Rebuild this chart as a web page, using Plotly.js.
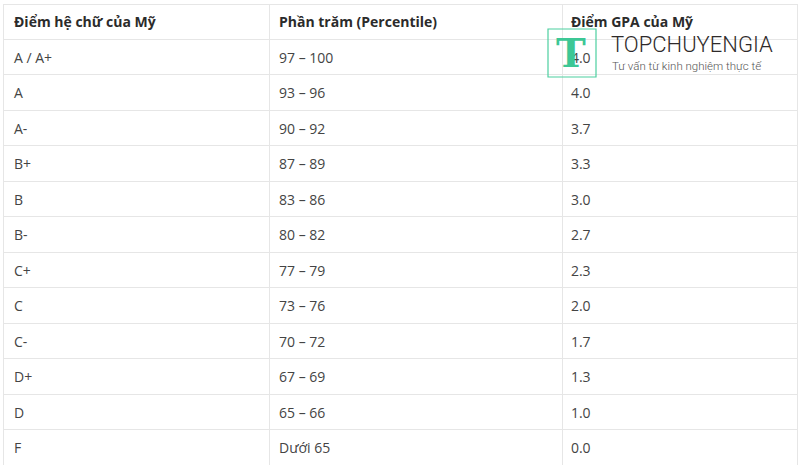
<!DOCTYPE html>
<html>
<head>
<meta charset="utf-8">
<script src="https://cdn.plot.ly/plotly-3.0.1.min.js"></script>
<style>
  html, body { margin: 0; padding: 0; background: #fff; }
  #chart { width: 800px; height: 469px; }
</style>
</head>
<body>
<div id="chart"></div>
<script>
// GPA conversion table
const headers = ['Điểm hệ chữ của Mỹ', 'Phần trăm (Percentile)', 'Điểm GPA của Mỹ'];
const letterGrades = ['A / A+', 'A', 'A-', 'B+', 'B', 'B-', 'C+', 'C', 'C-', 'D+', 'D', 'F'];
const percentiles = ['97 – 100', '93 – 96', '90 – 92', '87 – 89', '83 – 86', '80 – 82',
                     '77 – 79', '73 – 76', '70 – 72', '67 – 69', '65 – 66', 'Dưới 65'];
const gpaValues = ['4.0', '4.0', '3.7', '3.3', '3.0', '2.7', '2.3', '2.0', '1.7', '1.3', '1.0', '0.0'];

const W = 800, H = 469;
const m = {l: 3, r: 3, t: 4, b: 0};
const pw = W - m.l - m.r, ph = H - m.t - m.b;
const tableH = 461;
// pixel -> paper helpers
const px = x => (x - m.l) / pw;
const py = y => 1 - (y - m.t) / ph;

const lineColor = '#e6e6e6';
const clear = 'rgba(0,0,0,0)';
const colW = [266, 293, 235];
const rowH = 35.5, headH = 35;
const blanks = letterGrades.map(() => '');

// grid lines only
const grid = {
    type: 'table',
    domain: {x: [0, 1], y: [py(4 + tableH), 1]},
    columnwidth: colW,
    header: {
        values: ['', '', ''],
        height: headH,
        fill: {color: '#fff'},
        line: {color: lineColor, width: 1}
    },
    cells: {
        values: [blanks, blanks, blanks],
        height: rowH,
        fill: {color: '#fff'},
        line: {color: lineColor, width: 1}
    }
};

// header text, nudged right
const head = {
    type: 'table',
    domain: {x: [px(6), 1], y: [py(4 + tableH), 1]},
    columnwidth: colW,
    header: {
        values: headers.map(h => '<b>' + h + '</b>'),
        align: 'left',
        height: headH,
        fill: {color: clear},
        line: {color: clear, width: 0},
        font: {family: 'Open Sans', size: 14, color: '#2b2b2b'}
    },
    cells: {
        values: [blanks, blanks, blanks],
        height: rowH,
        fill: {color: clear},
        line: {color: clear, width: 0}
    }
};

// body text, nudged down/right so it sits centred in the rows
const body = {
    type: 'table',
    domain: {x: [px(6), 1], y: [py(9 + tableH), py(9)]},
    columnwidth: colW,
    header: {
        values: ['', '', ''],
        height: headH,
        fill: {color: clear},
        line: {color: clear, width: 0}
    },
    cells: {
        values: [letterGrades, percentiles, gpaValues],
        align: 'left',
        height: rowH,
        fill: {color: clear},
        line: {color: clear, width: 0},
        font: {family: 'Open Sans', size: 14, color: '#444'}
    }
};

const layout = {
    width: W,
    height: H,
    margin: m,
    paper_bgcolor: '#fff',
    shapes: [{
        type: 'rect', xref: 'paper', yref: 'paper',
        x0: px(548), x1: px(596), y0: py(29), y1: py(77),
        line: {color: '#4ccfa0', width: 1.2}
    }],
    annotations: [
        {
            xref: 'paper', yref: 'paper', x: px(571), y: py(53),
            xanchor: 'center', yanchor: 'middle',
            text: '<b>T</b>', showarrow: false,
            font: {family: 'DejaVu Serif', size: 40, color: '#3cc795'}
        },
        {
            xref: 'paper', yref: 'paper', x: px(609), y: py(45),
            xanchor: 'left', yanchor: 'middle',
            text: 'TOPCHUYENGIA', showarrow: false,
            font: {family: 'Roboto', size: 22, weight: 300, color: '#2e2a2a'}
        },
        {
            xref: 'paper', yref: 'paper', x: px(610), y: py(66),
            xanchor: 'left', yanchor: 'middle',
            text: 'Tư vấn từ kinh nghiệm thực tế', showarrow: false,
            font: {family: 'Roboto', size: 11.5, weight: 300, color: '#555'}
        }
    ]
};

Plotly.newPlot('chart', [grid, head, body], layout, {displayModeBar: false, staticPlot: true});
</script>
</body>
</html>
